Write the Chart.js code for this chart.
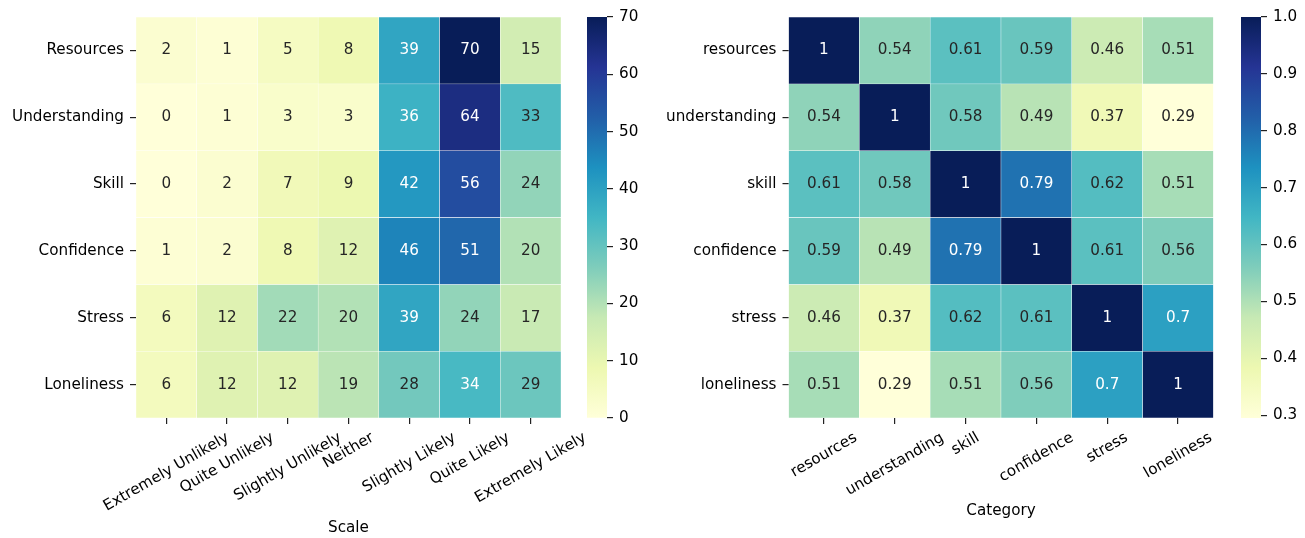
<!DOCTYPE html>
<html>
<head>
<meta charset="utf-8">
<script src="https://cdn.jsdelivr.net/npm/chart.js@4"></script>
<style>
  html, body { margin: 0; padding: 0; background: #fff; }
  #wrap { position: relative; width: 1305px; height: 538px; }
  .box { position: absolute; top: 0; height: 538px; }
</style>
</head>
<body>
<div id="wrap">
  <div class="box" style="left:0;width:610px"><canvas id="heatLeft"></canvas></div>
  <div class="box" style="left:587px;width:60px"><canvas id="cbLeft"></canvas></div>
  <div class="box" style="left:640px;width:590px"><canvas id="heatRight"></canvas></div>
  <div class="box" style="left:1241px;width:64px"><canvas id="cbRight"></canvas></div>
</div>
<script>
/* ── Datos ── */
const SCALE_COLS = ['Extremely Unlikely', 'Quite Unlikely', 'Slightly Unlikely', 'Neither',
                    'Slightly Likely', 'Quite Likely', 'Extremely Likely'];
const SCALE_ROWS = ['Resources', 'Understanding', 'Skill', 'Confidence', 'Stress', 'Loneliness'];
const COUNTS = [
  [2, 1, 5, 8, 39, 70, 15],
  [0, 1, 3, 3, 36, 64, 33],
  [0, 2, 7, 9, 42, 56, 24],
  [1, 2, 8, 12, 46, 51, 20],
  [6, 12, 22, 20, 39, 24, 17],
  [6, 12, 12, 19, 28, 34, 29],
];
const COUNT_RANGE = [0, 70];
const COUNT_TICKS = [0, 10, 20, 30, 40, 50, 60, 70];

const CATS = ['resources', 'understanding', 'skill', 'confidence', 'stress', 'loneliness'];
const CORR = [
  [1, 0.54, 0.61, 0.59, 0.46, 0.51],
  [0.54, 1, 0.58, 0.49, 0.37, 0.29],
  [0.61, 0.58, 1, 0.79, 0.62, 0.51],
  [0.59, 0.49, 0.79, 1, 0.61, 0.56],
  [0.46, 0.37, 0.62, 0.61, 1, 0.7],
  [0.51, 0.29, 0.51, 0.56, 0.7, 1],
];
const CORR_RANGE = [0.295, 1];
const CORR_TICKS = [0.3, 0.4, 0.5, 0.6, 0.7, 0.8, 0.9, 1.0];

const YLGNBU = ['#ffffd9', '#edf8b1', '#c7e9b4', '#7fcdbb', '#41b6c4',
                '#1d91c0', '#225ea8', '#253494', '#081d58'];
const FONT = { family: '"DejaVu Sans", sans-serif', size: 15.2 };
const TEXT = '#000';
const TICK = '#222';
const TICK_LEN = 6;
const LABEL_PAD = 5;

/* ── Utilidades ── */
function hexRgb(h) {
  return [1, 3, 5].map(i => parseInt(h.slice(i, i + 2), 16));
}

function cmap(t) {
  t = Math.min(1, Math.max(0, t));
  const pos = t * (YLGNBU.length - 1);
  const i = Math.min(Math.floor(pos), YLGNBU.length - 2);
  const f = pos - i;
  const a = hexRgb(YLGNBU[i]), b = hexRgb(YLGNBU[i + 1]);
  return a.map((c, k) => Math.round(c + (b[k] - c) * f));
}

function rgbStr(c) {
  return `rgb(${c[0]},${c[1]},${c[2]})`;
}

// misma regla que seaborn para elegir texto blanco u oscuro
function luminance(c) {
  const lin = c.map(v => {
    v /= 255;
    return v <= 0.03928 ? v / 12.92 : Math.pow((v + 0.055) / 1.055, 2.4);
  });
  return 0.2126 * lin[0] + 0.7152 * lin[1] + 0.0722 * lin[2];
}

function norm(v, range) {
  return (v - range[0]) / (range[1] - range[0]);
}

function fontStr() {
  return `${FONT.size}px ${FONT.family}`;
}

/* ── Anotaciones ── */
function annotPlugin(values, range) {
  return {
    id: 'annot',
    afterDatasetsDraw(chart) {
      const ctx = chart.ctx;
      ctx.save();
      ctx.font = fontStr();
      ctx.textAlign = 'center';
      ctx.textBaseline = 'middle';
      chart.data.datasets.forEach((ds, i) => {
        chart.getDatasetMeta(i).data.forEach((el, j) => {
          const v = values[i][j];
          const c = cmap(norm(v, range));
          ctx.fillStyle = luminance(c) < 0.408 ? '#fff' : '#262626';
          ctx.fillText(String(v), el.x, (el.y + el.base) / 2);
        });
      });
      ctx.restore();
    },
  };
}

/* ── Etiquetas del eje x: giradas 30° y centradas en la marca ── */
const xLabelPlugin = {
  id: 'xlabels',
  afterDraw(chart) {
    const s = chart.scales.x;
    const ctx = chart.ctx;
    const rot = Math.PI / 6;
    const h = FONT.size * 1.164;
    ctx.save();
    ctx.font = fontStr();
    ctx.fillStyle = TEXT;
    ctx.textAlign = 'center';
    ctx.textBaseline = 'middle';
    chart.data.labels.forEach((label, i) => {
      const w = ctx.measureText(label).width;
      const bh = w * Math.sin(rot) + h * Math.cos(rot);
      const x = s.getPixelForTick(i);
      const y = s.top + TICK_LEN + LABEL_PAD + bh / 2;
      ctx.save();
      ctx.translate(x, y);
      ctx.rotate(-rot);
      ctx.fillText(label, 0, 0);
      ctx.restore();
    });
    ctx.restore();
  },
};

/* ── Mapa de calor ── */
function initHeatmap(id, rows, cols, values, range, cfg) {
  new Chart(document.getElementById(id), {
    type: 'bar',
    data: {
      labels: cols,
      datasets: rows.map((r, i) => ({
        label: r,
        data: cols.map(() => [i, i + 1]),
        backgroundColor: values[i].map(v => rgbStr(cmap(norm(v, range)))),
        borderColor: '#fff',
        borderWidth: 0.5,
        borderSkipped: false,
        barPercentage: 1,
        categoryPercentage: 1,
        grouped: false,
      })),
    },
    options: {
      animation: false,
      responsive: true,
      maintainAspectRatio: false,
      layout: { padding: { top: 17, right: cfg.padRight, bottom: 0, left: 0 } },
      plugins: { legend: { display: false }, tooltip: { enabled: false } },
      scales: {
        x: {
          offset: true,
          grid: { offset: false, drawOnChartArea: false, tickLength: TICK_LEN, color: TICK, lineWidth: 1.2 },
          border: { display: false },
          ticks: { display: false },
          title: { display: true, text: cfg.title, font: FONT, color: TEXT,
                   padding: { top: 0, bottom: cfg.titlePad } },
          afterFit: s => { s.height = 120; },
        },
        y: {
          type: 'linear',
          reverse: true,
          min: 0,
          max: rows.length,
          afterBuildTicks: s => { s.ticks = rows.map((_, i) => ({ value: i + 0.5 })); },
          ticks: { font: FONT, color: TEXT, padding: 6, callback: (v, i) => rows[i] },
          grid: { drawOnChartArea: false, tickLength: TICK_LEN, color: TICK, lineWidth: 1.2 },
          border: { display: false },
          afterFit: s => { s.width = cfg.yWidth; },
        },
      },
    },
    plugins: [annotPlugin(values, range), xLabelPlugin],
  });
}

/* ── Barra de color ── */
function initColorbar(id, range, ticks, fmt, axisWidth) {
  new Chart(document.getElementById(id), {
    type: 'bar',
    data: {
      labels: [''],
      datasets: [{
        data: [range],
        backgroundColor: ctx => {
          const area = ctx.chart.chartArea;
          if (!area) return YLGNBU[0];
          const g = ctx.chart.ctx.createLinearGradient(0, area.bottom, 0, area.top);
          YLGNBU.forEach((c, i) => g.addColorStop(i / (YLGNBU.length - 1), c));
          return g;
        },
        borderWidth: 0,
        barPercentage: 1,
        categoryPercentage: 1,
      }],
    },
    options: {
      animation: false,
      responsive: true,
      maintainAspectRatio: false,
      layout: { padding: { top: 17, right: 0, bottom: 120, left: 0 } },
      plugins: { legend: { display: false }, tooltip: { enabled: false } },
      scales: {
        x: { display: false },
        y: {
          position: 'right',
          min: range[0],
          max: range[1],
          afterBuildTicks: s => { s.ticks = ticks.map(v => ({ value: v })); },
          ticks: { font: FONT, color: TEXT, padding: 6, callback: fmt },
          grid: { drawOnChartArea: false, tickLength: TICK_LEN, color: TICK, lineWidth: 1.2 },
          border: { display: false },
          afterFit: s => { s.width = axisWidth; },
        },
      },
    },
  });
}

/* ── Init ── */
document.addEventListener('DOMContentLoaded', () => {
  initHeatmap('heatLeft', SCALE_ROWS, SCALE_COLS, COUNTS, COUNT_RANGE,
              { title: 'Scale', titlePad: 1, yWidth: 136, padRight: 49 });
  initColorbar('cbLeft', COUNT_RANGE, COUNT_TICKS, v => String(v), 40);
  initHeatmap('heatRight', CATS, CATS, CORR, CORR_RANGE,
              { title: 'Category', titlePad: 18, yWidth: 148.5, padRight: 16.5 });
  initColorbar('cbRight', CORR_RANGE, CORR_TICKS, v => v.toFixed(1), 44);
});
</script>
</body>
</html>
